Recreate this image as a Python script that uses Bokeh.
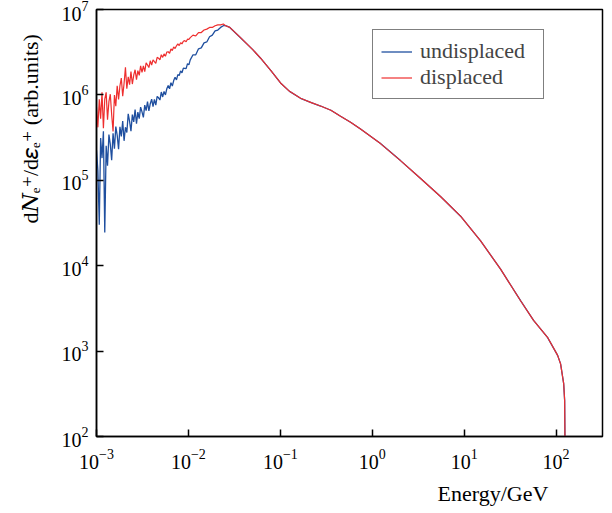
import math
from bokeh.plotting import figure
from bokeh.models import Legend, FixedTicker, Title
from bokeh.embed import file_html
from bokeh.resources import INLINE

# ---------------- data ----------------
E_LOW = [1.000e-3, 1.035e-3, 1.072e-3, 1.109e-3, 1.148e-3, 1.189e-3, 1.230e-3, 1.274e-3,
         1.318e-3, 1.365e-3, 1.413e-3, 1.462e-3, 1.514e-3, 1.567e-3, 1.622e-3, 1.679e-3,
         1.738e-3, 1.799e-3, 1.862e-3, 1.928e-3, 1.995e-3, 2.065e-3, 2.138e-3, 2.213e-3,
         2.291e-3, 2.371e-3, 2.455e-3, 2.541e-3, 2.630e-3, 2.723e-3, 2.818e-3, 2.917e-3,
         3.020e-3, 3.126e-3, 3.236e-3, 3.350e-3, 3.467e-3, 3.589e-3, 3.715e-3, 3.846e-3,
         3.981e-3, 4.121e-3, 4.266e-3, 4.416e-3, 4.571e-3, 4.732e-3, 4.898e-3, 5.070e-3,
         5.248e-3, 5.433e-3, 5.623e-3, 5.821e-3, 6.026e-3, 6.237e-3, 6.457e-3, 6.683e-3,
         6.918e-3, 7.161e-3, 7.413e-3, 7.674e-3, 7.943e-3, 8.222e-3, 8.511e-3, 8.810e-3,
         9.120e-3, 9.441e-3, 9.772e-3, 1.012e-2,
         1.047e-2, 1.122e-2, 1.202e-2, 1.288e-2, 1.380e-2, 1.479e-2,
         1.585e-2, 1.698e-2, 1.820e-2, 1.950e-2, 2.089e-2, 2.239e-2, 2.399e-2]

UNDISPLACED_LOW = [2.24e5, 1.30e5, 3.02e4, 3.13e5, 1.82e5, 3.76e5, 2.45e4, 2.54e5,
                   1.48e5, 3.43e5, 2.63e5, 1.72e5, 3.55e5, 2.34e5, 4.25e5, 3.37e5,
                   2.32e5, 4.22e5, 3.27e5, 4.93e5, 2.90e5, 4.18e5, 3.63e5, 6.01e5,
                   4.90e5, 3.76e5, 5.87e5, 4.83e5, 6.73e5, 4.60e5, 6.28e5, 5.27e5,
                   7.19e5, 6.32e5, 5.45e5, 7.60e5, 6.53e5, 8.32e5, 6.50e5, 7.89e5,
                   8.91e5, 7.29e5, 8.85e5, 7.59e5, 9.62e5, 9.25e5, 8.71e5, 1.08e6,
                   9.46e5, 1.10e6, 1.00e6, 1.18e6, 1.29e6, 1.18e6, 1.39e6, 1.27e6,
                   1.47e6, 1.61e6, 1.50e6, 1.73e6, 1.69e6, 1.91e6, 1.81e6, 2.06e6,
                   2.05e6, 2.03e6, 2.32e6, 2.25e6,
                   2.57e6, 2.95e6, 2.95e6, 3.47e6, 3.55e6, 4.07e6,
                   4.17e6, 4.79e6, 5.01e6, 5.62e6, 5.75e6, 6.17e6, 6.46e6]

DISPLACED_LOW = [7.24e5, 4.17e5, 8.91e5, 5.25e5, 1.07e6, 4.07e5, 8.91e5, 1.07e6,
                 5.13e5, 8.32e5, 1.02e6, 5.89e5, 3.72e5, 9.98e5, 7.38e5, 1.28e6,
                 8.85e5, 1.28e6, 1.57e6, 9.64e5, 1.36e6, 2.10e6, 1.18e6, 1.63e6,
                 1.32e6, 1.88e6, 1.34e6, 1.70e6, 1.97e6, 1.51e6, 1.92e6, 1.69e6,
                 2.19e6, 1.84e6, 2.18e6, 1.87e6, 2.38e6, 2.24e6, 2.09e6, 2.51e6,
                 2.24e6, 2.57e6, 2.45e6, 2.34e6, 2.75e6, 2.69e6, 2.57e6, 2.95e6,
                 2.75e6, 3.02e6, 2.83e6, 3.18e6, 3.20e6, 3.07e6, 3.45e6, 3.31e6,
                 3.65e6, 3.49e6, 3.76e6, 3.95e6, 3.78e6, 4.07e6, 3.96e6, 4.24e6,
                 4.32e6, 4.20e6, 4.49e6, 4.47e6,
                 4.68e6, 5.01e6, 4.90e6, 5.37e6, 5.37e6, 5.75e6,
                 5.89e6, 6.17e6, 6.17e6, 6.46e6, 6.61e6, 6.61e6, 6.76e6]

E_TAIL = [0.0254, 0.0282, 0.0369, 0.0501, 0.0610, 0.0794, 0.1005, 0.126, 0.166, 0.217,
          0.274, 0.355, 0.452, 0.581, 0.746, 1.23, 2.03, 3.36, 5.53, 9.14, 15.1, 24.9,
          41.1, 56.9, 80.7, 104.0, 112.0, 121.0, 124.0, 127.0]
N_TAIL = [6.46e6, 6.17e6, 4.68e6, 3.39e6, 2.69e6, 1.91e6, 1.38e6, 1.10e6, 9.12e5, 8.13e5,
          7.41e5, 6.61e5, 5.62e5, 4.79e5, 3.98e5, 2.69e5, 1.70e5, 1.05e5, 6.46e4, 3.80e4,
          1.95e4, 9.12e3, 3.89e3, 2.29e3, 1.45e3, 891.0, 708.0, 417.0, 263.0, 10.0]

SERIES = ["undisplaced", "displaced"]
COLORS = ["#1f4f9f", "#ee2e2e"]
X_TICKS = [1e-3, 1e-2, 1e-1, 1e0, 1e1, 1e2]
Y_TICKS = [1e2, 1e3, 1e4, 1e5, 1e6, 1e7]
X_RANGE = (1e-3, 320.0)
Y_RANGE = (1e2, 1e7)
X_TITLE = "Energy/GeV"
Y_TITLE = "d\U0001D441\u2091\u207A/d\U0001D700\u2091\u207A (arb.units)"

FONT = "Liberation Serif"
TITLE_FONT = "'Liberation Serif', 'DejaVu Serif', serif"

# ---------------- layout (canvas pixels) ----------------
W, H = 612, 513
FL, FR, FT, FB = 96, 602, 9, 436   # frame edges in canvas px

p = figure(width=W, height=H, x_axis_type="log", y_axis_type="log",
           x_range=X_RANGE, y_range=Y_RANGE, output_backend="svg",
           toolbar_location=None, min_border_left=FL, min_border_right=W - FR,
           min_border_top=FT, min_border_bottom=H - FB)
p.xgrid.visible = False
p.ygrid.visible = False
p.outline_line_color = "black"
p.outline_line_width = 1.5
p.background_fill_color = "white"
p.border_fill_color = "white"

for ax, ticks in ((p.xaxis, X_TICKS), (p.yaxis, Y_TICKS)):
    ax.ticker = FixedTicker(ticks=ticks, minor_ticks=[])
    ax.major_tick_in = 7
    ax.major_tick_out = 0
    ax.minor_tick_line_color = None
    ax.axis_line_width = 1.5
    ax.major_tick_line_width = 1.5
    ax.major_label_text_font = FONT
    ax.major_label_text_font_size = "20px"
    ax.major_label_text_color = "black"
p.xaxis.major_label_standoff = 12
p.yaxis.major_label_standoff = 8

x_all = [E_LOW + E_TAIL, E_LOW + E_TAIL]
y_all = [UNDISPLACED_LOW + N_TAIL, DISPLACED_LOW + N_TAIL]
rends = []
for xs, ys, c, w in zip(x_all, y_all, COLORS, (1.3, 1.2)):
    rends.append(p.line(xs, ys, line_color=c, line_width=w))

legend = Legend(items=[(SERIES[0], [rends[0]]), (SERIES[1], [rends[1]])],
                location=(276, 337), margin=0, padding=8, spacing=0,
                glyph_width=31, glyph_height=25, label_height=25, label_standoff=8,
                label_width=115,
                label_text_font=FONT, label_text_font_size="22px",
                border_line_color="black", border_line_width=1,
                background_fill_alpha=1.0)
p.add_layout(legend)

# axis titles placed as side-panel titles (off-centre, as in the reference)
xt = Title(text=X_TITLE, align="left", offset=341, standoff=14,
           text_font=FONT, text_font_size="22px", text_font_style="normal",
           text_color="black")
p.add_layout(xt, "below")
yt = Title(text=Y_TITLE, align="left", offset=213, standoff=31,
           text_font=TITLE_FONT, text_font_size="22px", text_font_style="normal",
           text_color="black")
p.add_layout(yt, "left")

open("out.html", "w").write(file_html(p, INLINE))
